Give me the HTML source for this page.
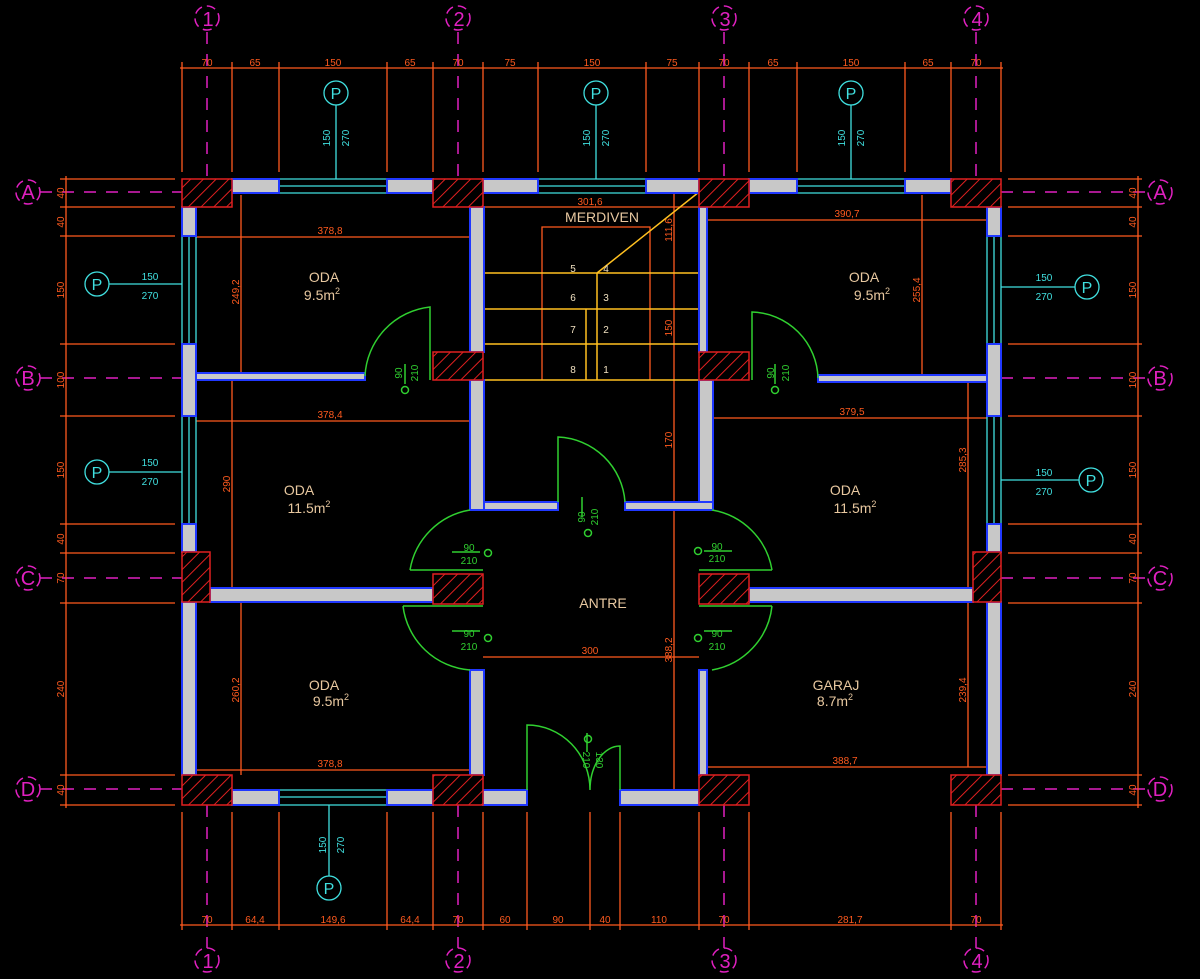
<!DOCTYPE html>
<html><head><meta charset="utf-8"><style>
html,body{margin:0;padding:0;background:#000;width:1200px;height:979px;overflow:hidden}
svg{display:block}
text{font-family:"Liberation Sans",sans-serif}
</style></head><body>
<svg width="1200" height="979" viewBox="0 0 1200 979" xmlns="http://www.w3.org/2000/svg">
<defs>
<pattern id="h" width="9" height="9" patternUnits="userSpaceOnUse" patternTransform="rotate(45)">
<rect width="9" height="9" fill="#000"/><line x1="0" y1="0" x2="0" y2="9" stroke="#e02020" stroke-width="2"/>
</pattern>
</defs>
<rect width="1200" height="979" fill="#000"/>

<!-- grid axes (outside building only) -->
<g stroke="#e020c0" stroke-width="1.5" stroke-dasharray="12,10" fill="none">
<path d="M207 32V180M458 32V180M724 32V180M976 32V180"/>
<path d="M207 805V948M458 805V948M724 805V948M976 805V948"/>
<path d="M40 192H182M40 378H182M40 578H182M40 789H182"/>
<path d="M1001 192H1148M1001 378H1148M1001 578H1148M1001 789H1148"/>
</g>
<g stroke="#e020c0" stroke-width="1.5" fill="none" stroke-dasharray="9,5">
<circle cx="207" cy="18" r="12"/><circle cx="458" cy="18" r="12"/><circle cx="724" cy="18" r="12"/><circle cx="976" cy="18" r="12"/>
<circle cx="207" cy="960" r="12"/><circle cx="458" cy="960" r="12"/><circle cx="724" cy="960" r="12"/><circle cx="976" cy="960" r="12"/>
<circle cx="28" cy="192" r="12"/><circle cx="28" cy="378" r="12"/><circle cx="28" cy="578" r="12"/><circle cx="28" cy="789" r="12"/>
<circle cx="1160" cy="192" r="12"/><circle cx="1160" cy="378" r="12"/><circle cx="1160" cy="578" r="12"/><circle cx="1160" cy="789" r="12"/>
</g>
<g fill="#e020c0" font-size="20" text-anchor="middle">
<text x="208" y="26">1</text><text x="459" y="26">2</text><text x="725" y="26">3</text><text x="977" y="26">4</text>
<text x="208" y="968">1</text><text x="459" y="968">2</text><text x="725" y="968">3</text><text x="977" y="968">4</text>
<text x="28" y="199">A</text><text x="28" y="385">B</text><text x="28" y="585">C</text><text x="28" y="796">D</text>
<text x="1160" y="199">A</text><text x="1160" y="385">B</text><text x="1160" y="585">C</text><text x="1160" y="796">D</text>
</g>

<!-- dimension lines -->
<g stroke="#ff5a1e" stroke-width="1.3" fill="none">
<line x1="180" y1="68" x2="1003" y2="68"/>
<path d="M182 62V172M232 62V172M279 62V172M387 62V172M433 62V172M483 62V172M538 62V172M646 62V172M699 62V172M749 62V172M797 62V172M905 62V172M951 62V172M1001 62V172"/>
<line x1="180" y1="925" x2="1003" y2="925"/>
<path d="M182 812V930M232 812V930M279 812V930M387 812V930M433 812V930M483 812V930M527 812V930M590 812V930M620 812V930M699 812V930M749 812V930M951 812V930M1001 812V930"/>
<line x1="66" y1="176" x2="66" y2="808"/>
<path d="M60 179H175M60 207H175M60 236H175M60 344H175M60 416H175M60 524H175M60 553H175M60 603H175M60 775H175M60 805H175"/>
<line x1="1138" y1="176" x2="1138" y2="808"/>
<path d="M1008 179H1142M1008 207H1142M1008 236H1142M1008 344H1142M1008 416H1142M1008 524H1142M1008 553H1142M1008 603H1142M1008 775H1142M1008 805H1142"/>
<line x1="196" y1="237" x2="470" y2="237"/><line x1="241" y1="195" x2="241" y2="378"/>
<line x1="196" y1="421" x2="470" y2="421"/><line x1="232" y1="380" x2="232" y2="590"/>
<line x1="241" y1="602" x2="241" y2="775"/><line x1="196" y1="770" x2="470" y2="770"/>
<line x1="483" y1="657" x2="699" y2="657"/>
<line x1="707" y1="220" x2="987" y2="220"/><line x1="922" y1="195" x2="922" y2="378"/>
<line x1="713" y1="418" x2="987" y2="418"/><line x1="968" y1="382" x2="968" y2="588"/>
<line x1="968" y1="602" x2="968" y2="767"/><line x1="707" y1="767" x2="987" y2="767"/>
<line x1="483" y1="207" x2="699" y2="207"/><line x1="674" y1="192" x2="674" y2="790"/>
<path d="M542 380V227H650V380"/>
</g>
<g fill="#ff5a1e" font-size="10" text-anchor="middle">
<text x="207" y="66">70</text><text x="255" y="66">65</text><text x="333" y="66">150</text><text x="410" y="66">65</text><text x="458" y="66">70</text><text x="510" y="66">75</text><text x="592" y="66">150</text><text x="672" y="66">75</text><text x="724" y="66">70</text><text x="773" y="66">65</text><text x="851" y="66">150</text><text x="928" y="66">65</text><text x="976" y="66">70</text>
<text x="207" y="923">70</text><text x="255" y="923">64,4</text><text x="333" y="923">149,6</text><text x="410" y="923">64,4</text><text x="458" y="923">70</text><text x="505" y="923">60</text><text x="558" y="923">90</text><text x="605" y="923">40</text><text x="659" y="923">110</text><text x="724" y="923">70</text><text x="850" y="923">281,7</text><text x="976" y="923">70</text>
<text x="330" y="234">378,8</text><text x="330" y="418">378,4</text><text x="330" y="767">378,8</text><text x="590" y="654">300</text>
<text x="847" y="217">390,7</text><text x="852" y="415">379,5</text><text x="845" y="764">388,7</text><text x="590" y="205">301,6</text>
<g transform="rotate(-90)">
<text x="-193" y="64">40</text><text x="-222" y="64">40</text><text x="-290" y="64">150</text><text x="-380" y="64">100</text><text x="-470" y="64">150</text><text x="-539" y="64">40</text><text x="-578" y="64">70</text><text x="-689" y="64">240</text><text x="-790" y="64">40</text>
<text x="-193" y="1136">40</text><text x="-222" y="1136">40</text><text x="-290" y="1136">150</text><text x="-380" y="1136">100</text><text x="-470" y="1136">150</text><text x="-539" y="1136">40</text><text x="-578" y="1136">70</text><text x="-689" y="1136">240</text><text x="-790" y="1136">40</text>
<text x="-292" y="239">249,2</text><text x="-484" y="230">290</text><text x="-690" y="239">260,2</text>
<text x="-290" y="920">255,4</text><text x="-460" y="966">285,3</text><text x="-690" y="966">239,4</text>
<text x="-230" y="672">111,6</text><text x="-328" y="672">150</text><text x="-440" y="672">170</text><text x="-650" y="672">388,2</text>
</g>
</g>

<!-- stairs -->
<g stroke="#ffc020" stroke-width="1.5" fill="none">
<path d="M484 273H699M484 309H699M484 344H699M484 380H699M586 309V380M597 273V380M597 273L699 192"/>
</g>
<g fill="#f0e0c0" font-size="10" text-anchor="middle">
<text x="573" y="272">5</text><text x="573" y="301">6</text><text x="573" y="333">7</text><text x="573" y="373">8</text>
<text x="606" y="272">4</text><text x="606" y="301">3</text><text x="606" y="333">2</text><text x="606" y="373">1</text>
</g>

<!-- windows -->
<g stroke="#40e0e0" stroke-width="1.3" fill="none">
<path d="M279 179H387M279 186H387M279 193H387"/>
<path d="M538 179H646M538 186H646M538 193H646"/>
<path d="M797 179H905M797 186H905M797 193H905"/>
<path d="M279 790H387M279 797H387M279 805H387"/>
<path d="M182 236V344M189 236V344M196 236V344M182 416V524M189 416V524M196 416V524"/>
<path d="M987 236V344M994 236V344M1001 236V344M987 416V524M994 416V524M1001 416V524"/>
<path d="M336 105V179M596 105V179M851 105V179M329 876V805M109 284H182M109 472H182M1075 287H1001M1079 480H1001"/>
<circle cx="336" cy="93" r="12"/><circle cx="596" cy="93" r="12"/><circle cx="851" cy="93" r="12"/><circle cx="329" cy="888" r="12"/>
<circle cx="97" cy="284" r="12"/><circle cx="97" cy="472" r="12"/><circle cx="1087" cy="287" r="12"/><circle cx="1091" cy="480" r="12"/>
</g>
<g fill="#40e0e0" font-size="16" text-anchor="middle">
<text x="336" y="99">P</text><text x="596" y="99">P</text><text x="851" y="99">P</text><text x="329" y="894">P</text>
<text x="97" y="290">P</text><text x="97" y="478">P</text><text x="1087" y="293">P</text><text x="1091" y="486">P</text>
</g>
<g fill="#40e0e0" font-size="10" text-anchor="middle">
<text x="150" y="280">150</text><text x="150" y="299">270</text><text x="150" y="466">150</text><text x="150" y="485">270</text>
<text x="1044" y="281">150</text><text x="1044" y="300">270</text><text x="1044" y="476">150</text><text x="1044" y="495">270</text>
<g transform="rotate(-90)">
<text x="-138" y="330">150</text><text x="-138" y="349">270</text>
<text x="-138" y="590">150</text><text x="-138" y="609">270</text>
<text x="-138" y="845">150</text><text x="-138" y="864">270</text>
<text x="-845" y="326">150</text><text x="-845" y="344">270</text>
</g>
</g>

<!-- walls -->
<g fill="#c8c8c8" stroke="#2038ff" stroke-width="2">
<rect x="232" y="179" width="47" height="14"/><rect x="387" y="179" width="46" height="14"/>
<rect x="483" y="179" width="55" height="14"/><rect x="646" y="179" width="53" height="14"/>
<rect x="749" y="179" width="48" height="14"/><rect x="905" y="179" width="46" height="14"/>
<rect x="182" y="207" width="14" height="29"/><rect x="182" y="344" width="14" height="72"/><rect x="182" y="524" width="14" height="28"/><rect x="182" y="602" width="14" height="173"/>
<rect x="987" y="207" width="14" height="29"/><rect x="987" y="344" width="14" height="72"/><rect x="987" y="524" width="14" height="28"/><rect x="987" y="602" width="14" height="173"/>
<rect x="232" y="790" width="47" height="15"/><rect x="387" y="790" width="46" height="15"/>
<rect x="483" y="790" width="44" height="15"/><rect x="620" y="790" width="79" height="15"/>
<rect x="196" y="373" width="169" height="7"/><rect x="818" y="375" width="169" height="7"/>
<rect x="470" y="207" width="14" height="145"/><rect x="470" y="380" width="14" height="130"/><rect x="484" y="502" width="74" height="8"/>
<rect x="699" y="207" width="8" height="145"/><rect x="699" y="380" width="14" height="130"/><rect x="625" y="502" width="88" height="8"/>
<rect x="210" y="588" width="223" height="14"/><rect x="749" y="588" width="224" height="14"/>
<rect x="470" y="670" width="14" height="105"/><rect x="699" y="670" width="8" height="105"/>
</g>

<!-- columns -->
<g fill="url(#h)" stroke="#e02020" stroke-width="1.5">
<rect x="182" y="179" width="50" height="28"/><rect x="433" y="179" width="50" height="28"/><rect x="699" y="179" width="50" height="28"/><rect x="951" y="179" width="50" height="28"/>
<rect x="433" y="352" width="50" height="28"/><rect x="699" y="352" width="50" height="28"/>
<rect x="182" y="552" width="28" height="50"/><rect x="433" y="574" width="50" height="30"/><rect x="699" y="574" width="50" height="30"/><rect x="973" y="552" width="28" height="50"/>
<rect x="182" y="775" width="50" height="30"/><rect x="433" y="775" width="50" height="30"/><rect x="699" y="775" width="50" height="30"/><rect x="951" y="775" width="50" height="30"/>
</g>

<!-- doors -->
<g stroke="#30d030" stroke-width="1.5" fill="none">
<path d="M430 380V307A73 73 0 0 0 365 376"/>
<path d="M752 380V312A68 68 0 0 1 818 378"/>
<path d="M558 502V437A70 70 0 0 1 625 502"/>
<path d="M410 570A73 73 0 0 1 470 510M410 570H483"/>
<path d="M403 606A73 73 0 0 0 470 670M403 606H483"/>
<path d="M772 570A73 73 0 0 0 712 510M772 570H699"/>
<path d="M772 606A73 73 0 0 1 712 670M772 606H699"/>
<path d="M527 790V725A63 65 0 0 1 590 790M620 790V746A30 44 0 0 0 590 790"/>
<path d="M405 364V384M775 364V384M582 497V517M452 552H480M452 631H480M704 551H732M704 631H732M587 733V752"/>
<circle cx="405" cy="390" r="3.5"/><circle cx="775" cy="390" r="3.5"/><circle cx="588" cy="533" r="3.5"/>
<circle cx="488" cy="553" r="3.5"/><circle cx="488" cy="638" r="3.5"/><circle cx="698" cy="551" r="3.5"/><circle cx="698" cy="638" r="3.5"/><circle cx="588" cy="739" r="3.5"/>
</g>
<g fill="#30d030" font-size="10" text-anchor="middle">
<text x="469" y="551">90</text><text x="469" y="564">210</text>
<text x="469" y="637">90</text><text x="469" y="650">210</text>
<text x="717" y="550">90</text><text x="717" y="562">210</text>
<text x="717" y="637">90</text><text x="717" y="650">210</text>
<g transform="rotate(-90)">
<text x="-373" y="402">90</text><text x="-373" y="418">210</text>
<text x="-373" y="774">90</text><text x="-373" y="789">210</text>
<text x="-517" y="585">90</text><text x="-517" y="598">210</text>
</g>
<g transform="rotate(90)">
<text x="760" y="-583">210</text><text x="760" y="-596">130</text>
</g>
</g>

<!-- labels -->
<g fill="#e8c8a0" font-size="14" text-anchor="middle">
<text x="602" y="222">MERDIVEN</text>
<text x="324" y="282">ODA</text><text x="322" y="300">9.5m<tspan font-size="9" dy="-6">2</tspan></text>
<text x="299" y="495">ODA</text><text x="309" y="513">11.5m<tspan font-size="9" dy="-6">2</tspan></text>
<text x="324" y="690">ODA</text><text x="331" y="706">9.5m<tspan font-size="9" dy="-6">2</tspan></text>
<text x="864" y="282">ODA</text><text x="872" y="300">9.5m<tspan font-size="9" dy="-6">2</tspan></text>
<text x="845" y="495">ODA</text><text x="855" y="513">11.5m<tspan font-size="9" dy="-6">2</tspan></text>
<text x="836" y="690">GARAJ</text><text x="835" y="706">8.7m<tspan font-size="9" dy="-6">2</tspan></text>
<text x="603" y="608">ANTRE</text>
</g>
</svg>
</body></html>
